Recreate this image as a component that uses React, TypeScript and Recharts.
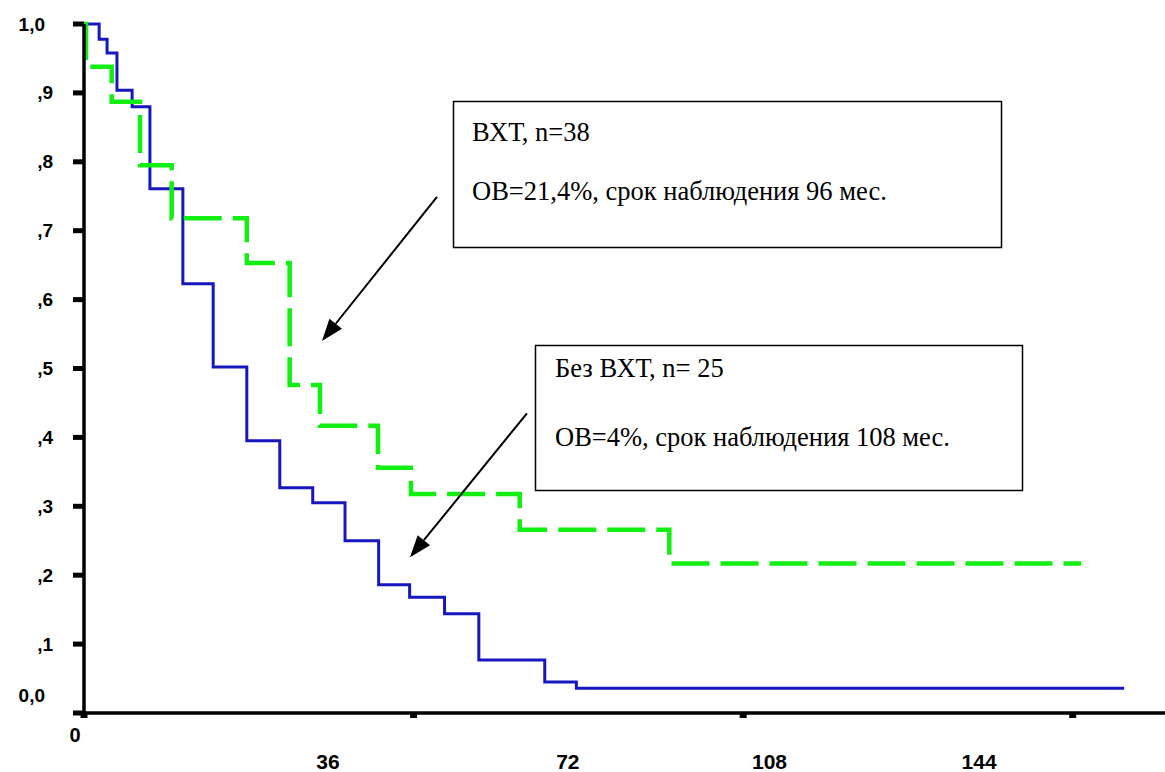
import React from "react";
import { LineChart, Line, XAxis, YAxis, ReferenceLine } from "recharts";

// Kaplan–Meier curves, time in months
const hipecTime = [0, 0.3, 4.2, 8.5, 13.3, 24.7, 31.2, 35.8, 44.6, 49.6, 66.1, 88.8, 151.3];
const hipecSurv = [1.0, 0.938, 0.887, 0.795, 0.718, 0.653, 0.476, 0.417, 0.356, 0.318, 0.266, 0.217, 0.217];

const noHipecTime = [0, 2.3, 3.5, 5.0, 7.3, 10.0, 15.0, 19.6, 24.7, 29.7, 34.7, 39.6, 44.7, 49.4, 54.7, 59.9, 69.9, 74.7, 157.8];
const noHipecSurv = [1.0, 0.978, 0.958, 0.904, 0.88, 0.761, 0.623, 0.502, 0.395, 0.327, 0.305, 0.25, 0.186, 0.168, 0.144, 0.077, 0.045, 0.036, 0.036];

const yTicks = [0, 0.1, 0.2, 0.3, 0.4, 0.5, 0.6, 0.7, 0.8, 0.9, 1.0];
const yTickLabels = ["0,0", ",1", ",2", ",3", ",4", ",5", ",6", ",7", ",8", ",9", "1,0"];

const xTicks = [0, 50, 100, 150];
// overlaid month labels and where they sit on the time axis
const monthLabels = ["36", "72", "108", "144"];
const monthLabelAt = [37, 73.4, 104, 135.8];

const hipecData = hipecTime.map((t, i) => ({ t, s: hipecSurv[i] }));
const noHipecData = noHipecTime.map((t, i) => ({ t, s: noHipecSurv[i] }));

const tickFont = { fontFamily: "'Liberation Sans', Arial, sans-serif", fontWeight: 700 };

const YTick = (props: any) => {
  const { x, y, index } = props;
  const label = yTickLabels[index];
  const wide = label.length > 2;
  return (
    <text
      x={x - (wide ? 8 : 0)}
      y={y - (index === 0 ? 18 : 0)}
      textAnchor="end"
      dominantBaseline="central"
      fontSize={19}
      fill="#000"
      style={tickFont}
    >
      {label}
    </text>
  );
};

const XTick = (props: any) => {
  const { x, y, payload } = props;
  if (payload.value !== 0) return null;
  return (
    <text x={x - 9} y={y + 15} textAnchor="middle" dominantBaseline="central" fontSize={20} fill="#000" style={tickFont}>
      0
    </text>
  );
};

const MonthTick = (props: any) => {
  const { x, y, index } = props;
  return (
    <text x={x} y={y + 18} textAnchor="middle" dominantBaseline="central" fontSize={21} fill="#000" style={tickFont}>
      {monthLabels[index]}
    </text>
  );
};

const Arrow = (p: any) => {
  const { x1, y1, x2, y2 } = p;
  const a = Math.atan2(y2 - y1, x2 - x1);
  const len = 22;
  const hw = 8;
  const bx = x2 - len * Math.cos(a);
  const by = y2 - len * Math.sin(a);
  const px = -Math.sin(a) * hw;
  const py = Math.cos(a) * hw;
  return (
    <g>
      <line x1={x1} y1={y1} x2={bx} y2={by} stroke="#000" strokeWidth={2} />
      <polygon points={`${x2},${y2} ${bx + px},${by + py} ${bx - px},${by - py}`} fill="#000" />
    </g>
  );
};

const serifText = {
  fontFamily: "'Liberation Serif', 'Times New Roman', 'DejaVu Serif', serif",
  fontSize: 26.5,
  fill: "#000",
};

export default function App() {
  return (
    <div style={{ position: "absolute", left: 0, top: 0, width: 1165, height: 772, background: "#fff" }}>
      <LineChart width={1165} height={772} margin={{ top: 24, right: 0, bottom: 0, left: 0 }}>
        <XAxis
          dataKey="t"
          type="number"
          domain={[0, 164]}
          allowDataOverflow
          ticks={xTicks}
          height={30}
          axisLine={{ stroke: "#000", strokeWidth: 3.5 }}
          tickLine={{ stroke: "#000", strokeWidth: 7 }}
          tickSize={5}
          tickMargin={2}
          tick={<XTick />}
          interval={0}
        />
        <XAxis
          xAxisId="lab"
          dataKey="t"
          type="number"
          domain={[0, 164]}
          allowDataOverflow
          ticks={monthLabelAt}
          height={29}
          axisLine={false}
          tickLine={false}
          tickSize={0}
          tickMargin={0}
          tick={<MonthTick />}
          interval={0}
        />
        <YAxis
          type="number"
          domain={[0, 1]}
          ticks={yTicks}
          width={84}
          axisLine={{ stroke: "#000", strokeWidth: 3.5 }}
          tickLine={{ stroke: "#000", strokeWidth: 5 }}
          tickSize={11}
          tickMargin={20}
          tick={<YTick />}
          interval={0}
        />
        <Line
          data={noHipecData}
          dataKey="s"
          type="stepAfter"
          stroke="#1717c0"
          strokeWidth={3}
          dot={false}
          isAnimationActive={false}
        />
        <Line
          data={hipecData}
          dataKey="s"
          type="stepAfter"
          stroke="#11ee11"
          strokeWidth={4.5}
          strokeDasharray="38 11"
          dot={false}
          isAnimationActive={false}
        />
        <ReferenceLine segment={[{ x: 53.55, y: 0.749 }, { x: 36.1, y: 0.54 }]} shape={<Arrow />} />
        <ReferenceLine segment={[{ x: 67.2, y: 0.435 }, { x: 49.46, y: 0.226 }]} shape={<Arrow />} />
      </LineChart>
      <svg width={1165} height={772} style={{ position: "absolute", left: 0, top: 0, pointerEvents: "none" }}>
        <rect x={453.5} y={101.5} width={548} height={146} fill="#fff" stroke="#000" strokeWidth={1.5} />
        <text x={472} y={141} style={serifText}>ВХТ, n=38</text>
        <text x={472} y={200} style={serifText}>ОВ=21,4%, срок наблюдения 96 мес.</text>
        <rect x={535.5} y={345.5} width={487} height={145} fill="#fff" stroke="#000" strokeWidth={1.5} />
        <text x={555} y={377} style={serifText}>Без ВХТ, n= 25</text>
        <text x={555} y={446} style={serifText}>ОВ=4%, срок наблюдения 108 мес.</text>
      </svg>
    </div>
  );
}
